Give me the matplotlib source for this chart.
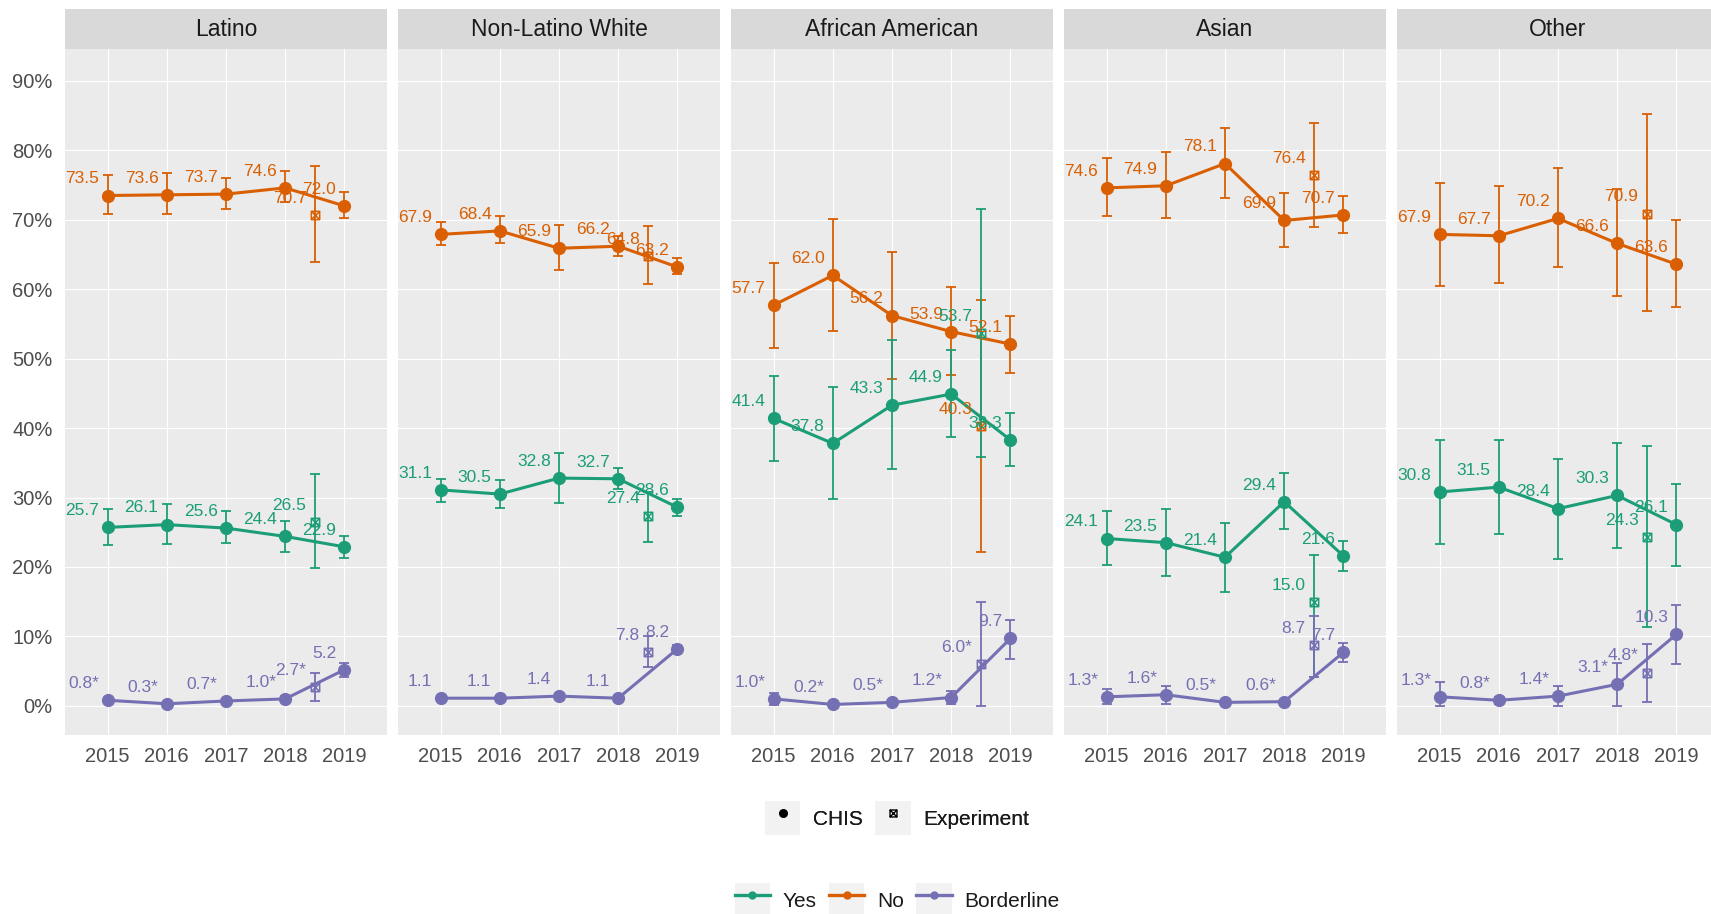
import numpy as np
import matplotlib
matplotlib.use("Agg")
import matplotlib.pyplot as plt
from matplotlib.path import Path
from matplotlib.patches import Patch
from matplotlib.lines import Line2D

plt.rcParams['font.family'] = ['Liberation Sans', 'DejaVu Sans']

years = [2015, 2016, 2017, 2018, 2019]
exp_year = 2018.5
groups = ["Latino", "Non-Latino White", "African American", "Asian", "Other"]

# CHIS estimates (percent) per group, with confidence limits
yes_val = [[25.7, 26.1, 25.6, 24.4, 22.9], [31.1, 30.5, 32.8, 32.7, 28.6],
           [41.4, 37.8, 43.3, 44.9, 38.3], [24.1, 23.5, 21.4, 29.4, 21.6],
           [30.8, 31.5, 28.4, 30.3, 26.1]]
yes_lo = [[23.1, 23.3, 23.4, 22.1, 21.3], [29.4, 28.5, 29.2, 31.3, 27.3],
          [35.3, 29.8, 34.1, 38.7, 34.5], [20.3, 18.7, 16.4, 25.5, 19.4],
          [23.3, 24.7, 21.2, 22.7, 20.1]]
yes_hi = [[28.3, 29.0, 28.0, 26.6, 24.5], [32.7, 32.5, 36.4, 34.3, 29.8],
          [47.5, 45.9, 52.7, 51.3, 42.2], [28.0, 28.4, 26.3, 33.6, 23.8],
          [38.3, 38.3, 35.5, 37.8, 32.0]]

no_val = [[73.5, 73.6, 73.7, 74.6, 72.0], [67.9, 68.4, 65.9, 66.2, 63.2],
          [57.7, 62.0, 56.2, 53.9, 52.1], [74.6, 74.9, 78.1, 69.9, 70.7],
          [67.9, 67.7, 70.2, 66.6, 63.6]]
no_lo = [[70.9, 70.8, 71.6, 72.5, 70.2], [66.3, 66.6, 62.8, 64.8, 62.2],
         [51.6, 54.0, 47.1, 47.7, 48.0], [70.6, 70.2, 73.2, 66.1, 68.1],
         [60.5, 60.9, 63.2, 59.0, 57.5]]
no_hi = [[76.4, 76.7, 76.0, 77.1, 74.0], [69.7, 70.6, 69.2, 67.6, 64.5],
         [63.8, 70.1, 65.3, 60.3, 56.2], [78.9, 79.8, 83.2, 73.9, 73.5],
         [75.3, 74.8, 77.4, 74.4, 70.0]]

bl_val = [[0.8, 0.3, 0.7, 1.0, 5.2], [1.1, 1.1, 1.4, 1.1, 8.2],
          [1.0, 0.2, 0.5, 1.2, 9.7], [1.3, 1.6, 0.5, 0.6, 7.7],
          [1.3, 0.8, 1.4, 3.1, 10.3]]
bl_lo = [[0.5, 0.1, 0.4, 0.6, 4.2], [0.9, 0.9, 1.1, 0.9, 7.7],
         [0.1, 0.0, 0.1, 0.2, 6.8], [0.3, 0.3, 0.2, 0.3, 6.3],
         [0.0, 0.3, 0.0, 0.0, 6.0]]
bl_hi = [[1.1, 0.5, 1.0, 1.4, 6.1], [1.3, 1.3, 1.7, 1.3, 8.7],
         [1.9, 0.4, 0.9, 2.2, 12.4], [2.4, 2.9, 0.8, 0.9, 9.0],
         [3.4, 1.3, 2.9, 6.1, 14.5]]
bl_star = [[1, 1, 1, 1, 0], [0, 0, 0, 0, 0], [1, 1, 1, 1, 0],
           [1, 1, 1, 1, 0], [1, 1, 1, 1, 0]]

# Experiment estimates (one per group)
yes_exp = [26.5, 27.4, 53.7, 15.0, 24.3]
yes_exp_lo = [19.9, 23.6, 35.9, 4.1, 11.4]
yes_exp_hi = [33.4, 30.8, 71.6, 21.7, 37.4]
no_exp = [70.7, 64.8, 40.3, 76.4, 70.9]
no_exp_lo = [63.9, 60.7, 22.2, 69.0, 56.8]
no_exp_hi = [77.8, 69.1, 58.4, 84.0, 85.3]
bl_exp = [2.7, 7.8, 6.0, 8.7, 4.8]
bl_exp_lo = [0.7, 5.6, 0.0, 4.1, 0.6]
bl_exp_hi = [4.8, 10.0, 14.9, 13.0, 8.9]
bl_exp_star = [1, 0, 1, 0, 1]

c_yes, c_no, c_bl = '#1B9E77', '#D95F02', '#7570B3'

# square with a cross, like R's pch 7
boxcross = Path([(-1, -1), (1, -1), (1, 1), (-1, 1), (-1, -1),
                 (-1, -1), (1, 1), (-1, 1), (1, -1)],
                [Path.MOVETO, Path.LINETO, Path.LINETO, Path.LINETO, Path.CLOSEPOLY,
                 Path.MOVETO, Path.LINETO, Path.MOVETO, Path.LINETO])


def label(ax, x, y, txt, color):
    ax.annotate(txt, (x, y), xytext=(-6, 12), textcoords='offset points',
                ha='right', va='center', color=color, fontsize=12.5, zorder=6)


def draw_series(ax, val, lo, hi, ev, elo, ehi, color, stars=None, estar=0):
    val, lo, hi = np.array(val), np.array(lo), np.array(hi)
    ax.errorbar(years, val, yerr=[val - lo, hi - val], fmt='none', ecolor=color,
                elinewidth=1.3, capsize=3.5, capthick=1.3, zorder=3)
    ax.errorbar([exp_year], [ev], yerr=[[ev - elo], [ehi - ev]], fmt='none',
                ecolor=color, elinewidth=1.3, capsize=3.5, capthick=1.3, zorder=3)
    ax.plot(years, val, color=color, lw=2.2, marker='o', ms=8.5, zorder=4)
    ax.plot([exp_year], [ev], ls='none', marker=boxcross, ms=6, mfc='none',
            mec=color, mew=1.1, zorder=5)
    for i, (x, y) in enumerate(zip(years, val)):
        s = '%.1f' % y
        if stars is not None and stars[i]:
            s += '*'
        label(ax, x, y, s, color)
    label(ax, exp_year, ev, '%.1f' % ev + ('*' if estar else ''), color)


fig = plt.figure(figsize=(17.11, 9.14), dpi=100)
W, H = 1711.0, 914.0
lefts = [65, 398, 731, 1064, 1397]
pw = 322
top_px, bot_px, strip_top = 49, 735, 9

for g, name in enumerate(groups):
    ax = fig.add_axes([lefts[g] / W, 1 - bot_px / H, pw / W, (bot_px - top_px) / H])
    ax.set_facecolor('#EBEBEB')
    for s in ax.spines.values():
        s.set_visible(False)
    ax.set_xlim(2014.28, 2019.72)
    ax.set_ylim(-4.2, 94.6)
    ax.set_xticks(years)
    ax.set_yticks(range(0, 91, 10))
    ax.set_yticklabels(['%d%%' % v for v in range(0, 91, 10)])
    ax.grid(True, color='white', lw=0.8, zorder=0)
    ax.set_axisbelow(True)
    ax.tick_params(length=0, labelsize=14.5, labelcolor='#4D4D4D', pad=9)
    if g > 0:
        ax.tick_params(labelleft=False)

    draw_series(ax, no_val[g], no_lo[g], no_hi[g], no_exp[g], no_exp_lo[g], no_exp_hi[g], c_no)
    draw_series(ax, yes_val[g], yes_lo[g], yes_hi[g], yes_exp[g], yes_exp_lo[g], yes_exp_hi[g], c_yes)
    draw_series(ax, bl_val[g], bl_lo[g], bl_hi[g], bl_exp[g], bl_exp_lo[g], bl_exp_hi[g], c_bl,
                stars=bl_star[g], estar=bl_exp_star[g])

    sax = fig.add_axes([lefts[g] / W, 1 - top_px / H, pw / W, (top_px - strip_top) / H])
    sax.set_facecolor('#D9D9D9')
    sax.set_xticks([])
    sax.set_yticks([])
    for s in sax.spines.values():
        s.set_visible(False)
    sax.text(0.5, 0.5, name, ha='center', va='center', fontsize=16.5,
             color='#1A1A1A', transform=sax.transAxes)

bg = dict(facecolor='#F2F2F2', edgecolor='none')
leg_kw = dict(frameon=False, handlelength=1.7, handleheight=2.2, handletextpad=0.6,
              columnspacing=0.6, borderpad=0, fontsize=15, labelcolor='#1A1A1A')

h1 = [(Patch(**bg), Line2D([], [], ls='none', marker='o', ms=5.5, color='black')),
      (Patch(**bg), Line2D([], [], ls='none', marker=boxcross, ms=5, mfc='none',
                           mec='black', mew=1.0))]
leg1 = fig.legend(h1, ['CHIS', 'Experiment'], loc='center', ncol=2,
                  bbox_to_anchor=(897 / W, 1 - 818 / H), **leg_kw)
fig.add_artist(leg1)

h2 = [(Patch(**bg), Line2D([], [], color=c, lw=2.4, marker='o', ms=5))
      for c in [c_yes, c_no, c_bl]]
fig.legend(h2, ['Yes', 'No', 'Borderline'], loc='center', ncol=3,
           bbox_to_anchor=(897 / W, 1 - 900 / H), **leg_kw)

fig.savefig('out.png', dpi=100)
